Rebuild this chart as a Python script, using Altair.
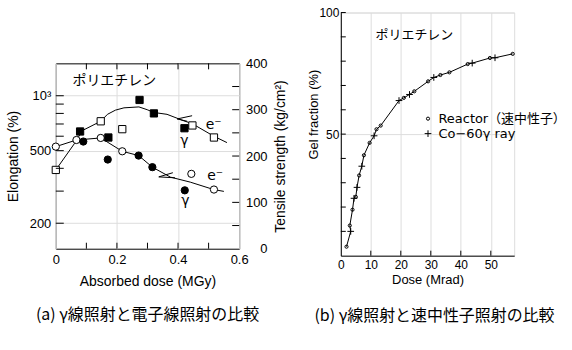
import altair as alt
import pandas as pd

FONT = "DejaVu Sans, Noto Sans CJK JP"
JP = "Noto Sans CJK JP"

# ---------------- panel (a): gamma-ray vs electron-beam ----------------
a_x_e_circle = [0.0, 0.0675, 0.147, 0.2175, 0.4435, 0.5175]
a_y_e_circle = [526, 572, 587, 496, 373, 306]            # elongation (%)
a_x_g_circle = [0.090, 0.170, 0.271, 0.316, 0.422]
a_y_g_circle = [561, 447, 470, 406, 303]
a_x_e_square = [0.0, 0.147, 0.2175, 0.447, 0.5175]
a_y_e_square = [170, 275, 258, 266, 240]                 # tensile strength
a_x_g_square = [0.0795, 0.172, 0.274, 0.321, 0.421]
a_y_g_square = [253, 240, 321, 292, 260]
a_curve_el_x = [0, 0.0675, 0.147, 0.2175, 0.271, 0.316, 0.375, 0.44, 0.5165, 0.55]
a_curve_el_y = [526, 572, 587, 496, 470, 406, 358, 336, 306, 299]
a_curve_ts_x = [0, 0.06, 0.087, 0.147, 0.169, 0.195, 0.223, 0.272, 0.299, 0.321,
                0.364, 0.419, 0.446, 0.5165, 0.56]
a_curve_ts_y = [170, 226, 255, 275, 290, 299, 304, 306, 300, 294, 290, 276, 270, 243, 229]
a_mark_up_x = [0.446, 0.397, 0.43]
a_mark_up_y = [287, 280, 275]
a_mark_lo_x = [0.383, 0.337, 0.39]
a_mark_lo_y = [164, 155, 153]
a_note_text = ["e⁻", "γ", "e⁻", "γ"]
a_note_x = [0.5165, 0.4206, 0.5217, 0.4239]
a_note_y = [268, 233, 156, 102]
a_title_text = ["ポリエチレン"]
a_title_x = [0.0545]
a_title_y = [362]
a_x_ticks = [0.1, 0.2, 0.3, 0.4, 0.5]
a_x_labels = [0, 0.2, 0.4, 0.6]
a_el_ticks = [200, 300, 400, 500, 600, 700, 800, 900, 1000]
a_el_labels = [200, 500, 1000]
a_ts_ticks = [50, 100, 150, 200, 250, 300, 350]
a_ts_labels = [0, 100, 200, 300, 400]

# ---------------- panel (b): gamma-ray vs fast neutron ----------------
LAB_R = "Reactor（速中性子）"
LAB_C = "Co−60γ ray"
b_x_reactor = [1.9, 3.0, 3.9, 5.0, 6.1, 7.7, 9.6, 11.9, 13.3, 21.0, 24.5, 29.1, 33.2, 36.2, 42.3, 49.7, 57.3]
b_y_reactor = [3.7, 12.4, 18.9, 24.2, 33.0, 41.3, 46.4, 52.0, 53.5, 64.9, 67.6, 71.7, 74.3, 75.4, 78.8, 81.3, 83.0]
b_x_co60 = [3.3, 4.4, 5.4, 7.0, 11.1, 19.4, 22.9, 31.0, 43.8, 51.4]
b_y_co60 = [10.0, 23.6, 28.1, 36.8, 49.3, 63.8, 66.3, 73.3, 79.2, 81.4]
b_title_text = ["ポリエチレン"]
b_title_x = [11.6]
b_title_y = [90.6]
b_x_ticks = [10, 20, 30, 40, 50]
b_x_labels = [0, 10, 20, 30, 40, 50]
b_y_ticks = [10, 20, 30, 40, 50, 60, 70, 80, 90, 100]
b_y_labels = [50, 100]

W1, H1 = 184, 186
W2, H2 = 174, 244
SPACER = 43

# ---------------- panel (a) chart ----------------
xa = alt.Scale(domain=[0, 0.6], nice=False, zero=False)
ylog = alt.Scale(type="log", domain=[145, 1505], nice=False)
yts = alt.Scale(domain=[0, 400], nice=False, zero=False)

XA = alt.X("x:Q", scale=xa, axis=alt.Axis(
    values=a_x_labels, format=".1~f", ticks=False, tickSize=0, domain=False,
    labelFontSize=13, labelPadding=5, labelFlush=False, labelFontWeight="normal",
    title="Absorbed dose (MGy)", titleFontSize=14, titlePadding=8, titleFontWeight="normal"))

Y_EL_AX = alt.Y("y:Q", scale=ylog, axis=alt.Axis(
    values=a_el_labels, labelExpr="datum.value == 1000 ? '10³' : format(datum.value, 'd')",
    ticks=False, tickSize=0, domain=False, labelFontSize=13, labelPadding=5,
    title="Elongation (%)", titleFontSize=14, titlePadding=9, titleFontWeight="normal"))
Y_EL = alt.Y("y:Q", scale=ylog, axis=None)
Y_TS_AX = alt.Y("y:Q", scale=yts, axis=alt.Axis(
    orient="right", values=a_ts_labels, ticks=False, tickSize=0, domain=False,
    labelFontSize=13, labelPadding=28, labelAlign="right", title="Tensile strength (kg/cm²)",
    titleFontSize=14, titlePadding=6, titleAngle=270, titleBaseline="top",
    titleFontWeight="normal"))
Y_TS = alt.Y("y:Q", scale=yts, axis=None)

def D(xs, ys):
    return pd.DataFrame({"x": xs, "y": ys})

line_el = alt.Chart(D(a_curve_el_x, a_curve_el_y)).mark_line(color="black", strokeWidth=1).encode(
    x=XA, y=Y_EL_AX, order="x:Q")
line_ts = alt.Chart(D(a_curve_ts_x, a_curve_ts_y)).mark_line(color="black", strokeWidth=1).encode(
    x=XA, y=Y_TS_AX, order="x:Q")
mk_up = alt.Chart(D(a_mark_up_x, a_mark_up_y)).mark_line(color="black", strokeWidth=1).encode(
    x=XA, y=Y_TS, order=alt.Order("o:Q")).transform_window(o="row_number()")
mk_lo = alt.Chart(D(a_mark_lo_x, a_mark_lo_y)).mark_line(color="black", strokeWidth=1).encode(
    x=XA, y=Y_TS, order=alt.Order("o:Q")).transform_window(o="row_number()")

circ_e = alt.Chart(D(a_x_e_circle, a_y_e_circle)).mark_point(
    shape="circle", size=53, filled=True, fill="white", stroke="black", strokeWidth=1, opacity=1
).encode(x=XA, y=Y_EL)
circ_g = alt.Chart(D(a_x_g_circle, a_y_g_circle)).mark_point(
    shape="circle", size=53, filled=True, fill="black", stroke="black", strokeWidth=1, opacity=1
).encode(x=XA, y=Y_EL)
sq_e = alt.Chart(D(a_x_e_square, a_y_e_square)).mark_point(
    shape="square", size=53, filled=True, fill="white", stroke="black", strokeWidth=1, opacity=1
).encode(x=XA, y=Y_TS)
sq_g = alt.Chart(D(a_x_g_square, a_y_g_square)).mark_point(
    shape="square", size=53, filled=True, fill="black", stroke="black", strokeWidth=1, opacity=1
).encode(x=XA, y=Y_TS)

notes = alt.Chart(pd.DataFrame({"x": a_note_x, "y": a_note_y, "t": a_note_text})).mark_text(
    font=FONT, fontSize=14, color="black", align="center", baseline="middle"
).encode(x=XA, y=Y_TS, text="t:N")
a_lbl = alt.Chart(pd.DataFrame({"x": a_title_x, "y": a_title_y, "t": a_title_text})).mark_text(
    font=JP, fontSize=14, color="black", align="left", baseline="middle"
).encode(x=XA, y=Y_TS, text="t:N")

xt = pd.DataFrame({"x": a_x_ticks})
tick_b = alt.Chart(xt).mark_rule(color="black", strokeWidth=1).encode(
    x=XA, y=alt.value(H1), y2=alt.value(H1 - 6))
tick_t = alt.Chart(xt).mark_rule(color="black", strokeWidth=1).encode(
    x=XA, y=alt.value(0), y2=alt.value(6))
tick_l = alt.Chart(pd.DataFrame({"y": a_el_ticks})).mark_rule(color="black", strokeWidth=1).encode(
    y=Y_EL, x=alt.value(0), x2=alt.value(8))
tick_r = alt.Chart(pd.DataFrame({"y": a_ts_ticks})).mark_rule(color="black", strokeWidth=1).encode(
    y=Y_TS, x=alt.value(W1 - 7), x2=alt.value(W1))

panel_a = alt.layer(
    line_el, line_ts, mk_up, mk_lo, circ_e, circ_g, sq_e, sq_g, notes, a_lbl,
    tick_b, tick_t, tick_l, tick_r
).resolve_scale(y="independent").properties(
    width=W1, height=H1,
    view=alt.ViewBackground(stroke="black", strokeWidth=1),
    title=alt.TitleParams("(a)  γ線照射と電子線照射の比較", orient="bottom", anchor="middle",
                          frame="group", font=JP, fontSize=16, fontWeight="normal",
                          color="black", offset=19))

spacer = alt.Chart(pd.DataFrame({"x": [0]})).mark_point(size=0, opacity=0).encode(
    x=alt.value(0), y=alt.value(0)).properties(
    width=W1, height=SPACER, view=alt.ViewBackground(stroke="transparent", fill="transparent"))

left_col = alt.vconcat(spacer, panel_a, spacing=0)

# ---------------- panel (b) chart ----------------
xb = alt.Scale(domain=[0, 57.8], nice=False, zero=False)
yb = alt.Scale(domain=[0, 100], nice=False, zero=False)
XB = alt.X("x:Q", scale=xb, axis=alt.Axis(
    values=b_x_labels, format="d", ticks=False, tickSize=0, domain=True, domainColor="black",
    labelFontSize=12, labelPadding=4, labelFlush=False,
    title="Dose (Mrad)", titleFontSize=13, titlePadding=3, titleFontWeight="normal"))
YB = alt.Y("y:Q", scale=yb, axis=alt.Axis(
    values=b_y_labels, format="d", ticks=False, tickSize=0, domain=True, domainColor="black",
    labelFontSize=12, labelPadding=2, labelFlush=False,
    title="Gel fraction (%)", titleFontSize=13, titleX=-20, titleY=102, titleFontWeight="normal"))

b_all = pd.DataFrame({
    "x": b_x_reactor + b_x_co60,
    "y": b_y_reactor + b_y_co60,
    "s": [LAB_R] * len(b_x_reactor) + [LAB_C] * len(b_x_co60),
})
LEG = alt.Legend(title=None, orient="none", legendX=81, legendY=100, padding=0,
                 labelFont=FONT, labelFontSize=13, labelColor="black",
                 symbolStrokeColor="black", symbolStrokeWidth=1,
                 symbolOpacity=1, rowPadding=1, labelOffset=4)

gel_line = alt.Chart(b_all).mark_line(color="black", strokeWidth=1).encode(
    x=XB, y=YB, order="y:Q")
gel_pts = alt.Chart(b_all).mark_point(
    filled=False, color="black", strokeWidth=1, opacity=1
).encode(
    x=XB, y=YB,
    shape=alt.Shape("s:N", scale=alt.Scale(domain=[LAB_R, LAB_C],
                                           range=["circle", "M-1,0H1M0,-1V1"]), legend=LEG),
    size=alt.Size("s:N", scale=alt.Scale(domain=[LAB_R, LAB_C], range=[10, 45]), legend=LEG),
)
b_lbl = alt.Chart(pd.DataFrame({"x": b_title_x, "y": b_title_y, "t": b_title_text})).mark_text(
    font=JP, fontSize=13, color="black", align="left", baseline="middle"
).encode(x=XB, y=YB, text="t:N")
btick_x = alt.Chart(pd.DataFrame({"x": b_x_ticks})).mark_rule(color="black", strokeWidth=1).encode(
    x=XB, y=alt.value(H2), y2=alt.value(H2 - 5))
btick_y = alt.Chart(pd.DataFrame({"y": b_y_ticks})).mark_rule(color="black", strokeWidth=1).encode(
    y=YB, x=alt.value(0), x2=alt.value(5))

panel_b = alt.layer(gel_line, gel_pts, b_lbl, btick_x, btick_y).properties(
    width=W2, height=H2,
    title=alt.TitleParams("(b)  γ線照射と速中性子照射の比較", orient="bottom", anchor="middle",
                          frame="group", font=JP, fontSize=16, fontWeight="normal",
                          color="black", offset=22, dx=7))

chart = alt.hconcat(left_col, panel_b, spacing=19).resolve_scale(
    shape="independent", size="independent"
).resolve_legend(
    shape="independent", size="independent"
).configure_view(stroke=None).configure_axis(
    labelFont=FONT, titleFont=FONT, labelColor="black", titleColor="black",
    titleFontWeight="normal", labelFontWeight="normal", grid=False,
    domainColor="black", domainWidth=1
).configure(background="white")

chart.save("out.html", embed_options={"renderer": "svg", "actions": False})
